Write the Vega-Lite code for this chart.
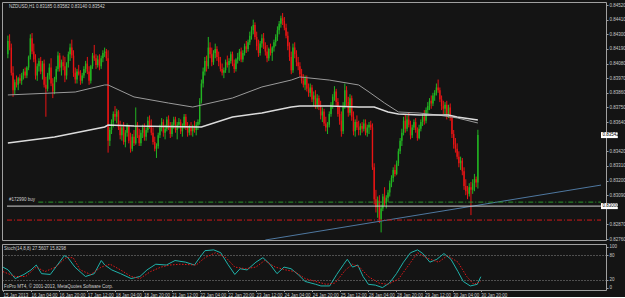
{
"$schema":"https://vega.github.io/schema/vega-lite/v6.json",
"background":"#141414",
"padding":{"left":1,"top":1,"right":0,"bottom":0},
"spacing":1,
"config":{"view":{"stroke":"#a0a0a0","strokeWidth":1},"font":"Liberation Sans",
"axis":{"labelFont":"Liberation Sans","labelFontSize":4.5,"labelColor":"#c8c8c8","tickColor":"#a0a0a0","tickSize":2,"labelPadding":1,"domain":false,"grid":false}},
"datasets":{
"bars":[
{"i":0,"o":0.84150,"h":0.84290,"l":0.84120,"c":0.84250},
{"i":1,"o":0.84250,"h":0.84300,"l":0.84180,"c":0.84200},
{"i":2,"o":0.84200,"h":0.84230,"l":0.83990,"c":0.84010},
{"i":3,"o":0.84010,"h":0.84060,"l":0.83830,"c":0.83880},
{"i":4,"o":0.83880,"h":0.83960,"l":0.83850,"c":0.83940},
{"i":5,"o":0.83940,"h":0.83990,"l":0.83900,"c":0.83920},
{"i":6,"o":0.83920,"h":0.83980,"l":0.83880,"c":0.83970},
{"i":7,"o":0.83970,"h":0.84000,"l":0.83930,"c":0.83950},
{"i":8,"o":0.83950,"h":0.84010,"l":0.83920,"c":0.83990},
{"i":9,"o":0.83990,"h":0.84040,"l":0.83960,"c":0.84020},
{"i":10,"o":0.84020,"h":0.84050,"l":0.83970,"c":0.83990},
{"i":11,"o":0.83990,"h":0.84060,"l":0.83970,"c":0.84050},
{"i":12,"o":0.84050,"h":0.84140,"l":0.84030,"c":0.84130},
{"i":13,"o":0.84130,"h":0.84300,"l":0.84110,"c":0.84270},
{"i":14,"o":0.84270,"h":0.84310,"l":0.84150,"c":0.84170},
{"i":15,"o":0.84170,"h":0.84230,"l":0.84090,"c":0.84110},
{"i":16,"o":0.84110,"h":0.84150,"l":0.83960,"c":0.83990},
{"i":17,"o":0.83990,"h":0.84080,"l":0.83950,"c":0.84060},
{"i":18,"o":0.84060,"h":0.84120,"l":0.84020,"c":0.84100},
{"i":19,"o":0.84100,"h":0.84130,"l":0.84000,"c":0.84020},
{"i":20,"o":0.84020,"h":0.84100,"l":0.83960,"c":0.84080},
{"i":21,"o":0.84080,"h":0.84110,"l":0.83900,"c":0.83920},
{"i":22,"o":0.83920,"h":0.83980,"l":0.83680,"c":0.83890},
{"i":23,"o":0.83890,"h":0.84010,"l":0.83870,"c":0.83990},
{"i":24,"o":0.83990,"h":0.84080,"l":0.83960,"c":0.84050},
{"i":25,"o":0.84050,"h":0.84120,"l":0.83910,"c":0.83930},
{"i":26,"o":0.83930,"h":0.83970,"l":0.83820,"c":0.83870},
{"i":27,"o":0.83870,"h":0.83980,"l":0.83850,"c":0.83960},
{"i":28,"o":0.83960,"h":0.84060,"l":0.83940,"c":0.84040},
{"i":29,"o":0.84040,"h":0.84170,"l":0.84020,"c":0.84140},
{"i":30,"o":0.84140,"h":0.84160,"l":0.84020,"c":0.84050},
{"i":31,"o":0.84050,"h":0.84110,"l":0.83990,"c":0.84090},
{"i":32,"o":0.84090,"h":0.84140,"l":0.84030,"c":0.84060},
{"i":33,"o":0.84060,"h":0.84130,"l":0.83940,"c":0.83990},
{"i":34,"o":0.83990,"h":0.84090,"l":0.83960,"c":0.84080},
{"i":35,"o":0.84080,"h":0.84170,"l":0.84050,"c":0.84150},
{"i":36,"o":0.84150,"h":0.84230,"l":0.84100,"c":0.84200},
{"i":37,"o":0.84200,"h":0.84260,"l":0.84120,"c":0.84140},
{"i":38,"o":0.84140,"h":0.84180,"l":0.83980,"c":0.84010},
{"i":39,"o":0.84010,"h":0.84050,"l":0.83930,"c":0.83960},
{"i":40,"o":0.83960,"h":0.84040,"l":0.83930,"c":0.84020},
{"i":41,"o":0.84020,"h":0.84070,"l":0.83990,"c":0.84000},
{"i":42,"o":0.84000,"h":0.84030,"l":0.83920,"c":0.83950},
{"i":43,"o":0.83950,"h":0.84010,"l":0.83930,"c":0.83990},
{"i":44,"o":0.83990,"h":0.84060,"l":0.83970,"c":0.84040},
{"i":45,"o":0.84040,"h":0.84100,"l":0.84010,"c":0.84080},
{"i":46,"o":0.84080,"h":0.84130,"l":0.84000,"c":0.84020},
{"i":47,"o":0.84020,"h":0.84060,"l":0.83920,"c":0.83950},
{"i":48,"o":0.83950,"h":0.84070,"l":0.83930,"c":0.84060},
{"i":49,"o":0.84060,"h":0.84160,"l":0.84040,"c":0.84140},
{"i":50,"o":0.84140,"h":0.84220,"l":0.84100,"c":0.84120},
{"i":51,"o":0.84120,"h":0.84150,"l":0.84040,"c":0.84070},
{"i":52,"o":0.84070,"h":0.84140,"l":0.84050,"c":0.84110},
{"i":53,"o":0.84110,"h":0.84150,"l":0.84030,"c":0.84060},
{"i":54,"o":0.84060,"h":0.84140,"l":0.84040,"c":0.84120},
{"i":55,"o":0.84120,"h":0.84180,"l":0.84090,"c":0.84160},
{"i":56,"o":0.84160,"h":0.84200,"l":0.84130,"c":0.84170},
{"i":57,"o":0.84170,"h":0.84190,"l":0.84100,"c":0.84120},
{"i":58,"o":0.84120,"h":0.84180,"l":0.83410,"c":0.83500},
{"i":59,"o":0.83500,"h":0.83600,"l":0.83460,"c":0.83580},
{"i":60,"o":0.83580,"h":0.83660,"l":0.83550,"c":0.83640},
{"i":61,"o":0.83640,"h":0.83720,"l":0.83600,"c":0.83700},
{"i":62,"o":0.83700,"h":0.83760,"l":0.83650,"c":0.83680},
{"i":63,"o":0.83680,"h":0.83740,"l":0.83630,"c":0.83720},
{"i":64,"o":0.83720,"h":0.83730,"l":0.83580,"c":0.83600},
{"i":65,"o":0.83600,"h":0.83650,"l":0.83510,"c":0.83540},
{"i":66,"o":0.83540,"h":0.83620,"l":0.83500,"c":0.83600},
{"i":67,"o":0.83600,"h":0.83640,"l":0.83470,"c":0.83490},
{"i":68,"o":0.83490,"h":0.83580,"l":0.83450,"c":0.83560},
{"i":69,"o":0.83560,"h":0.83630,"l":0.83530,"c":0.83610},
{"i":70,"o":0.83610,"h":0.83620,"l":0.83480,"c":0.83500},
{"i":71,"o":0.83500,"h":0.83560,"l":0.83410,"c":0.83440},
{"i":72,"o":0.83440,"h":0.83550,"l":0.83420,"c":0.83530},
{"i":73,"o":0.83530,"h":0.83580,"l":0.83460,"c":0.83480},
{"i":74,"o":0.83480,"h":0.83750,"l":0.83470,"c":0.83620},
{"i":75,"o":0.83620,"h":0.83640,"l":0.83520,"c":0.83540},
{"i":76,"o":0.83540,"h":0.83590,"l":0.83460,"c":0.83480},
{"i":77,"o":0.83480,"h":0.83580,"l":0.83460,"c":0.83560},
{"i":78,"o":0.83560,"h":0.83620,"l":0.83520,"c":0.83600},
{"i":79,"o":0.83600,"h":0.83630,"l":0.83500,"c":0.83530},
{"i":80,"o":0.83530,"h":0.83600,"l":0.83500,"c":0.83580},
{"i":81,"o":0.83580,"h":0.83680,"l":0.83560,"c":0.83650},
{"i":82,"o":0.83650,"h":0.83690,"l":0.83590,"c":0.83620},
{"i":83,"o":0.83620,"h":0.83660,"l":0.83540,"c":0.83560},
{"i":84,"o":0.83560,"h":0.83600,"l":0.83470,"c":0.83490},
{"i":85,"o":0.83490,"h":0.83530,"l":0.83420,"c":0.83440},
{"i":86,"o":0.83440,"h":0.83480,"l":0.83370,"c":0.83460},
{"i":87,"o":0.83460,"h":0.83560,"l":0.83440,"c":0.83540},
{"i":88,"o":0.83540,"h":0.83620,"l":0.83520,"c":0.83600},
{"i":89,"o":0.83600,"h":0.83670,"l":0.83570,"c":0.83640},
{"i":90,"o":0.83640,"h":0.83660,"l":0.83530,"c":0.83560},
{"i":91,"o":0.83560,"h":0.83620,"l":0.83510,"c":0.83590},
{"i":92,"o":0.83590,"h":0.83680,"l":0.83570,"c":0.83660},
{"i":93,"o":0.83660,"h":0.83690,"l":0.83580,"c":0.83600},
{"i":94,"o":0.83600,"h":0.83640,"l":0.83520,"c":0.83550},
{"i":95,"o":0.83550,"h":0.83640,"l":0.83530,"c":0.83620},
{"i":96,"o":0.83620,"h":0.83680,"l":0.83590,"c":0.83660},
{"i":97,"o":0.83660,"h":0.83680,"l":0.83560,"c":0.83580},
{"i":98,"o":0.83580,"h":0.83640,"l":0.83510,"c":0.83620},
{"i":99,"o":0.83620,"h":0.83670,"l":0.83590,"c":0.83640},
{"i":100,"o":0.83640,"h":0.83660,"l":0.83550,"c":0.83570},
{"i":101,"o":0.83570,"h":0.83630,"l":0.83530,"c":0.83610},
{"i":102,"o":0.83610,"h":0.83700,"l":0.83590,"c":0.83680},
{"i":103,"o":0.83680,"h":0.83700,"l":0.83580,"c":0.83600},
{"i":104,"o":0.83600,"h":0.83640,"l":0.83530,"c":0.83560},
{"i":105,"o":0.83560,"h":0.83620,"l":0.83540,"c":0.83600},
{"i":106,"o":0.83600,"h":0.83640,"l":0.83540,"c":0.83570},
{"i":107,"o":0.83570,"h":0.83620,"l":0.83530,"c":0.83600},
{"i":108,"o":0.83600,"h":0.83650,"l":0.83560,"c":0.83580},
{"i":109,"o":0.83580,"h":0.83640,"l":0.83540,"c":0.83620},
{"i":110,"o":0.83620,"h":0.83660,"l":0.83580,"c":0.83640},
{"i":111,"o":0.83640,"h":0.83820,"l":0.83620,"c":0.83800},
{"i":112,"o":0.83800,"h":0.83960,"l":0.83780,"c":0.83930},
{"i":113,"o":0.83930,"h":0.84050,"l":0.83900,"c":0.84020},
{"i":114,"o":0.84020,"h":0.84130,"l":0.83990,"c":0.84100},
{"i":115,"o":0.84100,"h":0.84140,"l":0.84020,"c":0.84060},
{"i":116,"o":0.84060,"h":0.84280,"l":0.84040,"c":0.84200},
{"i":117,"o":0.84200,"h":0.84240,"l":0.84120,"c":0.84150},
{"i":118,"o":0.84150,"h":0.84200,"l":0.84060,"c":0.84090},
{"i":119,"o":0.84090,"h":0.84180,"l":0.84070,"c":0.84160},
{"i":120,"o":0.84160,"h":0.84230,"l":0.84120,"c":0.84190},
{"i":121,"o":0.84190,"h":0.84210,"l":0.84100,"c":0.84130},
{"i":122,"o":0.84130,"h":0.84170,"l":0.84060,"c":0.84090},
{"i":123,"o":0.84090,"h":0.84130,"l":0.84020,"c":0.84040},
{"i":124,"o":0.84040,"h":0.84080,"l":0.83990,"c":0.84010},
{"i":125,"o":0.84010,"h":0.84050,"l":0.83970,"c":0.84030},
{"i":126,"o":0.84030,"h":0.84110,"l":0.84010,"c":0.84090},
{"i":127,"o":0.84090,"h":0.84140,"l":0.84050,"c":0.84070},
{"i":128,"o":0.84070,"h":0.84120,"l":0.84010,"c":0.84100},
{"i":129,"o":0.84100,"h":0.84170,"l":0.84080,"c":0.84150},
{"i":130,"o":0.84150,"h":0.84170,"l":0.84060,"c":0.84080},
{"i":131,"o":0.84080,"h":0.84110,"l":0.84010,"c":0.84040},
{"i":132,"o":0.84040,"h":0.84120,"l":0.84020,"c":0.84110},
{"i":133,"o":0.84110,"h":0.84160,"l":0.84080,"c":0.84130},
{"i":134,"o":0.84130,"h":0.84190,"l":0.84100,"c":0.84170},
{"i":135,"o":0.84170,"h":0.84200,"l":0.84090,"c":0.84110},
{"i":136,"o":0.84110,"h":0.84180,"l":0.84090,"c":0.84160},
{"i":137,"o":0.84160,"h":0.84230,"l":0.84140,"c":0.84210},
{"i":138,"o":0.84210,"h":0.84250,"l":0.84160,"c":0.84190},
{"i":139,"o":0.84190,"h":0.84260,"l":0.84170,"c":0.84240},
{"i":140,"o":0.84240,"h":0.84320,"l":0.84220,"c":0.84290},
{"i":141,"o":0.84290,"h":0.84360,"l":0.84260,"c":0.84330},
{"i":142,"o":0.84330,"h":0.84410,"l":0.84300,"c":0.84370},
{"i":143,"o":0.84370,"h":0.84390,"l":0.84260,"c":0.84280},
{"i":144,"o":0.84280,"h":0.84320,"l":0.84180,"c":0.84210},
{"i":145,"o":0.84210,"h":0.84260,"l":0.84130,"c":0.84160},
{"i":146,"o":0.84160,"h":0.84250,"l":0.84140,"c":0.84230},
{"i":147,"o":0.84230,"h":0.84300,"l":0.84200,"c":0.84270},
{"i":148,"o":0.84270,"h":0.84310,"l":0.84190,"c":0.84210},
{"i":149,"o":0.84210,"h":0.84240,"l":0.84140,"c":0.84170},
{"i":150,"o":0.84170,"h":0.84220,"l":0.84090,"c":0.84120},
{"i":151,"o":0.84120,"h":0.84200,"l":0.84100,"c":0.84190},
{"i":152,"o":0.84190,"h":0.84230,"l":0.84140,"c":0.84160},
{"i":153,"o":0.84160,"h":0.84210,"l":0.84100,"c":0.84200},
{"i":154,"o":0.84200,"h":0.84260,"l":0.84170,"c":0.84240},
{"i":155,"o":0.84240,"h":0.84300,"l":0.84210,"c":0.84280},
{"i":156,"o":0.84280,"h":0.84360,"l":0.84250,"c":0.84330},
{"i":157,"o":0.84330,"h":0.84400,"l":0.84300,"c":0.84380},
{"i":158,"o":0.84380,"h":0.84440,"l":0.84350,"c":0.84420},
{"i":159,"o":0.84420,"h":0.84460,"l":0.84370,"c":0.84400},
{"i":160,"o":0.84400,"h":0.84430,"l":0.84330,"c":0.84350},
{"i":161,"o":0.84350,"h":0.84380,"l":0.84270,"c":0.84290},
{"i":162,"o":0.84290,"h":0.84320,"l":0.84180,"c":0.84210},
{"i":163,"o":0.84210,"h":0.84240,"l":0.84100,"c":0.84130},
{"i":164,"o":0.84130,"h":0.84170,"l":0.84000,"c":0.84030},
{"i":165,"o":0.84030,"h":0.84230,"l":0.84010,"c":0.84200},
{"i":166,"o":0.84200,"h":0.84240,"l":0.84120,"c":0.84150},
{"i":167,"o":0.84150,"h":0.84180,"l":0.84060,"c":0.84090},
{"i":168,"o":0.84090,"h":0.84130,"l":0.84030,"c":0.84060},
{"i":169,"o":0.84060,"h":0.84090,"l":0.83980,"c":0.84000},
{"i":170,"o":0.84000,"h":0.84040,"l":0.83930,"c":0.83950},
{"i":171,"o":0.83950,"h":0.84000,"l":0.83900,"c":0.83920},
{"i":172,"o":0.83920,"h":0.83990,"l":0.83880,"c":0.83970},
{"i":173,"o":0.83970,"h":0.83990,"l":0.83870,"c":0.83890},
{"i":174,"o":0.83890,"h":0.83930,"l":0.83830,"c":0.83860},
{"i":175,"o":0.83860,"h":0.83930,"l":0.83830,"c":0.83900},
{"i":176,"o":0.83900,"h":0.83920,"l":0.83790,"c":0.83810},
{"i":177,"o":0.83810,"h":0.83870,"l":0.83760,"c":0.83840},
{"i":178,"o":0.83840,"h":0.83880,"l":0.83740,"c":0.83770},
{"i":179,"o":0.83770,"h":0.83850,"l":0.83740,"c":0.83820},
{"i":180,"o":0.83820,"h":0.83840,"l":0.83730,"c":0.83760},
{"i":181,"o":0.83760,"h":0.83800,"l":0.83660,"c":0.83690},
{"i":182,"o":0.83690,"h":0.83750,"l":0.83640,"c":0.83720},
{"i":183,"o":0.83720,"h":0.83740,"l":0.83610,"c":0.83630},
{"i":184,"o":0.83630,"h":0.83680,"l":0.83570,"c":0.83600},
{"i":185,"o":0.83600,"h":0.83640,"l":0.83550,"c":0.83620},
{"i":186,"o":0.83620,"h":0.83720,"l":0.83600,"c":0.83700},
{"i":187,"o":0.83700,"h":0.83790,"l":0.83680,"c":0.83770},
{"i":188,"o":0.83770,"h":0.83850,"l":0.83740,"c":0.83830},
{"i":189,"o":0.83830,"h":0.83910,"l":0.83800,"c":0.83870},
{"i":190,"o":0.83870,"h":0.83890,"l":0.83760,"c":0.83790},
{"i":191,"o":0.83790,"h":0.83820,"l":0.83680,"c":0.83700},
{"i":192,"o":0.83700,"h":0.83760,"l":0.83620,"c":0.83650},
{"i":193,"o":0.83650,"h":0.83720,"l":0.83530,"c":0.83570},
{"i":194,"o":0.83570,"h":0.83790,"l":0.83550,"c":0.83760},
{"i":195,"o":0.83760,"h":0.83930,"l":0.83740,"c":0.83880},
{"i":196,"o":0.83880,"h":0.83910,"l":0.83760,"c":0.83790},
{"i":197,"o":0.83790,"h":0.83830,"l":0.83680,"c":0.83710},
{"i":198,"o":0.83710,"h":0.83850,"l":0.83690,"c":0.83820},
{"i":199,"o":0.83820,"h":0.83840,"l":0.83650,"c":0.83680},
{"i":200,"o":0.83680,"h":0.83720,"l":0.83540,"c":0.83570},
{"i":201,"o":0.83570,"h":0.83660,"l":0.83530,"c":0.83640},
{"i":202,"o":0.83640,"h":0.83690,"l":0.83580,"c":0.83600},
{"i":203,"o":0.83600,"h":0.83650,"l":0.83540,"c":0.83580},
{"i":204,"o":0.83580,"h":0.83630,"l":0.83540,"c":0.83610},
{"i":205,"o":0.83610,"h":0.83640,"l":0.83560,"c":0.83590},
{"i":206,"o":0.83590,"h":0.83660,"l":0.83570,"c":0.83630},
{"i":207,"o":0.83630,"h":0.83660,"l":0.83540,"c":0.83560},
{"i":208,"o":0.83560,"h":0.83620,"l":0.83530,"c":0.83600},
{"i":209,"o":0.83600,"h":0.83640,"l":0.83550,"c":0.83620},
{"i":210,"o":0.83620,"h":0.83650,"l":0.83580,"c":0.83600},
{"i":211,"o":0.83600,"h":0.83630,"l":0.83280,"c":0.83300},
{"i":212,"o":0.83300,"h":0.83330,"l":0.83020,"c":0.83060},
{"i":213,"o":0.83060,"h":0.83130,"l":0.82960,"c":0.83000},
{"i":214,"o":0.83000,"h":0.83080,"l":0.82920,"c":0.83050},
{"i":215,"o":0.83050,"h":0.83090,"l":0.82880,"c":0.82910},
{"i":216,"o":0.82910,"h":0.83020,"l":0.82810,"c":0.82990},
{"i":217,"o":0.82990,"h":0.83100,"l":0.82970,"c":0.83080},
{"i":218,"o":0.83080,"h":0.83150,"l":0.83010,"c":0.83030},
{"i":219,"o":0.83030,"h":0.83090,"l":0.82990,"c":0.83070},
{"i":220,"o":0.83070,"h":0.83130,"l":0.83040,"c":0.83110},
{"i":221,"o":0.83110,"h":0.83200,"l":0.83080,"c":0.83180},
{"i":222,"o":0.83180,"h":0.83240,"l":0.83150,"c":0.83220},
{"i":223,"o":0.83220,"h":0.83300,"l":0.83190,"c":0.83280},
{"i":224,"o":0.83280,"h":0.83320,"l":0.83230,"c":0.83250},
{"i":225,"o":0.83250,"h":0.83350,"l":0.83240,"c":0.83330},
{"i":226,"o":0.83330,"h":0.83440,"l":0.83310,"c":0.83420},
{"i":227,"o":0.83420,"h":0.83520,"l":0.83400,"c":0.83500},
{"i":228,"o":0.83500,"h":0.83590,"l":0.83460,"c":0.83560},
{"i":229,"o":0.83560,"h":0.83680,"l":0.83540,"c":0.83650},
{"i":230,"o":0.83650,"h":0.83700,"l":0.83560,"c":0.83590},
{"i":231,"o":0.83590,"h":0.83690,"l":0.83570,"c":0.83660},
{"i":232,"o":0.83660,"h":0.83710,"l":0.83600,"c":0.83620},
{"i":233,"o":0.83620,"h":0.83650,"l":0.83510,"c":0.83540},
{"i":234,"o":0.83540,"h":0.83620,"l":0.83520,"c":0.83600},
{"i":235,"o":0.83600,"h":0.83660,"l":0.83580,"c":0.83640},
{"i":236,"o":0.83640,"h":0.83670,"l":0.83560,"c":0.83580},
{"i":237,"o":0.83580,"h":0.83600,"l":0.83500,"c":0.83520},
{"i":238,"o":0.83520,"h":0.83620,"l":0.83510,"c":0.83590},
{"i":239,"o":0.83590,"h":0.83660,"l":0.83570,"c":0.83640},
{"i":240,"o":0.83640,"h":0.83700,"l":0.83610,"c":0.83680},
{"i":241,"o":0.83680,"h":0.83730,"l":0.83620,"c":0.83650},
{"i":242,"o":0.83650,"h":0.83750,"l":0.83630,"c":0.83730},
{"i":243,"o":0.83730,"h":0.83790,"l":0.83700,"c":0.83760},
{"i":244,"o":0.83760,"h":0.83820,"l":0.83730,"c":0.83800},
{"i":245,"o":0.83800,"h":0.83840,"l":0.83740,"c":0.83780},
{"i":246,"o":0.83780,"h":0.83860,"l":0.83760,"c":0.83840},
{"i":247,"o":0.83840,"h":0.83880,"l":0.83800,"c":0.83860},
{"i":248,"o":0.83860,"h":0.83930,"l":0.83840,"c":0.83900},
{"i":249,"o":0.83900,"h":0.83960,"l":0.83860,"c":0.83880},
{"i":250,"o":0.83880,"h":0.83900,"l":0.83790,"c":0.83810},
{"i":251,"o":0.83810,"h":0.83840,"l":0.83730,"c":0.83760},
{"i":252,"o":0.83760,"h":0.83800,"l":0.83700,"c":0.83740},
{"i":253,"o":0.83740,"h":0.83790,"l":0.83690,"c":0.83770},
{"i":254,"o":0.83770,"h":0.83800,"l":0.83660,"c":0.83690},
{"i":255,"o":0.83690,"h":0.83770,"l":0.83670,"c":0.83750},
{"i":256,"o":0.83750,"h":0.83780,"l":0.83650,"c":0.83670},
{"i":257,"o":0.83670,"h":0.83690,"l":0.83520,"c":0.83550},
{"i":258,"o":0.83550,"h":0.83580,"l":0.83440,"c":0.83470},
{"i":259,"o":0.83470,"h":0.83520,"l":0.83410,"c":0.83440},
{"i":260,"o":0.83440,"h":0.83480,"l":0.83360,"c":0.83380},
{"i":261,"o":0.83380,"h":0.83420,"l":0.83300,"c":0.83330},
{"i":262,"o":0.83330,"h":0.83380,"l":0.83280,"c":0.83350},
{"i":263,"o":0.83350,"h":0.83370,"l":0.83240,"c":0.83270},
{"i":264,"o":0.83270,"h":0.83300,"l":0.83130,"c":0.83160},
{"i":265,"o":0.83160,"h":0.83210,"l":0.83090,"c":0.83120},
{"i":266,"o":0.83120,"h":0.83160,"l":0.83060,"c":0.83100},
{"i":267,"o":0.83100,"h":0.83180,"l":0.83080,"c":0.83150},
{"i":268,"o":0.83150,"h":0.83190,"l":0.82940,"c":0.83130},
{"i":269,"o":0.83130,"h":0.83210,"l":0.83100,"c":0.83180},
{"i":270,"o":0.83180,"h":0.83250,"l":0.83120,"c":0.83210},
{"i":271,"o":0.83210,"h":0.83230,"l":0.83150,"c":0.83185},
{"i":272,"o":0.83185,"h":0.83582,"l":0.83140,"c":0.83542}
],
"ma":[
{"s":"fast","i":0,"v":0.83844},{"s":"fast","i":39,"v":0.83866},{"s":"fast","i":56,"v":0.83919},{"s":"fast","i":58,"v":0.83919},{"s":"fast","i":73,"v":0.83829},{"s":"fast","i":93,"v":0.83783},{"s":"fast","i":107,"v":0.83753},{"s":"fast","i":130,"v":0.83821},{"s":"fast","i":147,"v":0.83904},{"s":"fast","i":164,"v":0.83956},{"s":"fast","i":169,"v":0.83979},{"s":"fast","i":186,"v":0.83956},{"s":"fast","i":203,"v":0.83919},{"s":"fast","i":209,"v":0.83866},{"s":"fast","i":218,"v":0.83783},{"s":"fast","i":226,"v":0.83716},{"s":"fast","i":238,"v":0.83708},{"s":"fast","i":249,"v":0.83693},{"s":"fast","i":260,"v":0.83671},{"s":"fast","i":272,"v":0.83633},
{"s":"slow","i":0,"v":0.83483},{"s":"slow","i":27,"v":0.83528},{"s":"slow","i":56,"v":0.83603},{"s":"slow","i":58,"v":0.83618},{"s":"slow","i":73,"v":0.83610},{"s":"slow","i":112,"v":0.83603},{"s":"slow","i":130,"v":0.83678},{"s":"slow","i":147,"v":0.83708},{"s":"slow","i":164,"v":0.83753},{"s":"slow","i":169,"v":0.83761},{"s":"slow","i":186,"v":0.83761},{"s":"slow","i":203,"v":0.83753},{"s":"slow","i":212,"v":0.83753},{"s":"slow","i":220,"v":0.83716},{"s":"slow","i":226,"v":0.83701},{"s":"slow","i":238,"v":0.83693},{"s":"slow","i":255,"v":0.83693},{"s":"slow","i":260,"v":0.83678},{"s":"slow","i":272,"v":0.83656}
],
"stoch":[
{"s":"main","i":0,"v":51},{"s":"main","i":3,"v":44},{"s":"main","i":7,"v":23},{"s":"main","i":12,"v":33},{"s":"main","i":16,"v":44},{"s":"main","i":19,"v":56},{"s":"main","i":22,"v":35},{"s":"main","i":27,"v":33},{"s":"main","i":31,"v":56},{"s":"main","i":35,"v":79},{"s":"main","i":37,"v":74},{"s":"main","i":41,"v":51},{"s":"main","i":47,"v":28},{"s":"main","i":52,"v":35},{"s":"main","i":56,"v":67},{"s":"main","i":58,"v":56},{"s":"main","i":62,"v":44},{"s":"main","i":67,"v":35},{"s":"main","i":73,"v":23},{"s":"main","i":78,"v":28},{"s":"main","i":82,"v":44},{"s":"main","i":87,"v":58},{"s":"main","i":93,"v":56},{"s":"main","i":98,"v":67},{"s":"main","i":104,"v":63},{"s":"main","i":109,"v":56},{"s":"main","i":112,"v":74},{"s":"main","i":115,"v":91},{"s":"main","i":120,"v":93},{"s":"main","i":124,"v":86},{"s":"main","i":128,"v":58},{"s":"main","i":132,"v":33},{"s":"main","i":135,"v":47},{"s":"main","i":139,"v":44},{"s":"main","i":144,"v":63},{"s":"main","i":148,"v":74},{"s":"main","i":152,"v":58},{"s":"main","i":156,"v":35},{"s":"main","i":160,"v":51},{"s":"main","i":164,"v":47},{"s":"main","i":168,"v":33},{"s":"main","i":172,"v":16},{"s":"main","i":178,"v":9},{"s":"main","i":181,"v":5},{"s":"main","i":186,"v":5},{"s":"main","i":190,"v":33},{"s":"main","i":194,"v":58},{"s":"main","i":196,"v":70},{"s":"main","i":199,"v":51},{"s":"main","i":202,"v":56},{"s":"main","i":205,"v":28},{"s":"main","i":208,"v":9},{"s":"main","i":212,"v":7},{"s":"main","i":216,"v":1},{"s":"main","i":220,"v":12},{"s":"main","i":224,"v":35},{"s":"main","i":228,"v":63},{"s":"main","i":232,"v":86},{"s":"main","i":236,"v":93},{"s":"main","i":239,"v":84},{"s":"main","i":243,"v":63},{"s":"main","i":247,"v":70},{"s":"main","i":251,"v":84},{"s":"main","i":255,"v":70},{"s":"main","i":259,"v":40},{"s":"main","i":262,"v":16},{"s":"main","i":266,"v":5},{"s":"main","i":270,"v":9},{"s":"main","i":272,"v":27.56},
{"s":"signal","i":0,"v":40},{"s":"signal","i":7,"v":28},{"s":"signal","i":13,"v":28},{"s":"signal","i":19,"v":51},{"s":"signal","i":24,"v":40},{"s":"signal","i":30,"v":51},{"s":"signal","i":36,"v":74},{"s":"signal","i":40,"v":74},{"s":"signal","i":44,"v":44},{"s":"signal","i":50,"v":33},{"s":"signal","i":56,"v":51},{"s":"signal","i":61,"v":58},{"s":"signal","i":67,"v":44},{"s":"signal","i":73,"v":28},{"s":"signal","i":78,"v":23},{"s":"signal","i":84,"v":40},{"s":"signal","i":90,"v":51},{"s":"signal","i":95,"v":56},{"s":"signal","i":101,"v":58},{"s":"signal","i":110,"v":56},{"s":"signal","i":115,"v":74},{"s":"signal","i":121,"v":86},{"s":"signal","i":127,"v":74},{"s":"signal","i":132,"v":51},{"s":"signal","i":138,"v":47},{"s":"signal","i":144,"v":51},{"s":"signal","i":149,"v":67},{"s":"signal","i":155,"v":51},{"s":"signal","i":161,"v":44},{"s":"signal","i":166,"v":40},{"s":"signal","i":172,"v":23},{"s":"signal","i":178,"v":16},{"s":"signal","i":184,"v":9},{"s":"signal","i":189,"v":12},{"s":"signal","i":195,"v":44},{"s":"signal","i":199,"v":58},{"s":"signal","i":203,"v":51},{"s":"signal","i":208,"v":28},{"s":"signal","i":214,"v":12},{"s":"signal","i":219,"v":9},{"s":"signal","i":225,"v":21},{"s":"signal","i":231,"v":56},{"s":"signal","i":236,"v":86},{"s":"signal","i":242,"v":72},{"s":"signal","i":248,"v":63},{"s":"signal","i":253,"v":79},{"s":"signal","i":259,"v":63},{"s":"signal","i":264,"v":28},{"s":"signal","i":268,"v":9},{"s":"signal","i":272,"v":15.83}
],
"trend":[{"i":149,"v":0.82753},{"i":343.25,"v":0.83166}],
"tags":[{"v":0.83542,"t":"0.83542"},{"v":0.83008,"t":"0.83000"}]
},
"vconcat":[
{"width":604,"height":238,
"layer":[
{"data":{"name":"bars"},"mark":{"type":"rule","strokeWidth":1,"clip":true},
 "encoding":{"x":{"field":"i","type":"quantitative","scale":{"domain":[-0.5,343.25],"nice":false,"zero":false},"axis":null},
 "y":{"field":"l","type":"quantitative","scale":{"domain":[0.82753,0.84543],"nice":false,"zero":false},
  "axis":{"orient":"right","values":[0.8452,0.8441,0.843,0.8419,0.8408,0.8397,0.8386,0.8375,0.8364,0.8342,0.8331,0.832,0.8309,0.8287,0.8276],"format":".5f","title":null}},
 "y2":{"field":"h"},
 "color":{"condition":{"test":"datum.c >= datum.o","value":"#22b422"},"value":"#e81414"}}},
{"data":{"name":"bars"},"mark":{"type":"bar","size":1.4,"clip":true},
 "encoding":{"x":{"field":"i","type":"quantitative","scale":{"domain":[-0.5,343.25],"nice":false,"zero":false},"axis":null},
 "y":{"field":"o","type":"quantitative","scale":{"domain":[0.82753,0.84543],"nice":false,"zero":false},
  "axis":{"orient":"right","values":[0.8452,0.8441,0.843,0.8419,0.8408,0.8397,0.8386,0.8375,0.8364,0.8342,0.8331,0.832,0.8309,0.8287,0.8276],"format":".5f","title":null}},
 "y2":{"field":"c"},
 "color":{"condition":{"test":"datum.c >= datum.o","value":"#22b422"},"value":"#e81414"}}},
{"data":{"name":"ma"},"transform":[{"filter":"datum.s == 'fast'"}],"mark":{"type":"line","color":"#9a9a9a","strokeWidth":1,"clip":true},
 "encoding":{"x":{"field":"i","type":"quantitative","scale":{"domain":[-0.5,343.25],"nice":false,"zero":false},"axis":null},
 "y":{"field":"v","type":"quantitative","scale":{"domain":[0.82753,0.84543],"nice":false,"zero":false},
  "axis":{"orient":"right","values":[0.8452,0.8441,0.843,0.8419,0.8408,0.8397,0.8386,0.8375,0.8364,0.8342,0.8331,0.832,0.8309,0.8287,0.8276],"format":".5f","title":null}}}},
{"data":{"name":"ma"},"transform":[{"filter":"datum.s == 'slow'"}],"mark":{"type":"line","color":"#dcdcdc","strokeWidth":1.5,"clip":true},
 "encoding":{"x":{"field":"i","type":"quantitative","scale":{"domain":[-0.5,343.25],"nice":false,"zero":false},"axis":null},
 "y":{"field":"v","type":"quantitative","scale":{"domain":[0.82753,0.84543],"nice":false,"zero":false},
  "axis":{"orient":"right","values":[0.8452,0.8441,0.843,0.8419,0.8408,0.8397,0.8386,0.8375,0.8364,0.8342,0.8331,0.832,0.8309,0.8287,0.8276],"format":".5f","title":null}}}},
{"data":{"name":"trend"},"mark":{"type":"line","color":"#4f78a0","strokeWidth":1,"clip":true},
 "encoding":{"x":{"field":"i","type":"quantitative","scale":{"domain":[-0.5,343.25],"nice":false,"zero":false},"axis":null},
 "y":{"field":"v","type":"quantitative","scale":{"domain":[0.82753,0.84543],"nice":false,"zero":false},
  "axis":{"orient":"right","values":[0.8452,0.8441,0.843,0.8419,0.8408,0.8397,0.8386,0.8375,0.8364,0.8342,0.8331,0.832,0.8309,0.8287,0.8276],"format":".5f","title":null}}}},
{"data":{"values":[{}]},"mark":{"type":"rule","color":"#2a9a2a","strokeWidth":1,"strokeDash":[5,2,1,2]},
 "encoding":{"x":{"datum":17.6,"type":"quantitative","scale":{"domain":[-0.5,343.25],"nice":false,"zero":false},"axis":null},"x2":{"datum":343.25},
 "y":{"datum":0.83038,"type":"quantitative","scale":{"domain":[0.82753,0.84543],"nice":false,"zero":false},
  "axis":{"orient":"right","values":[0.8452,0.8441,0.843,0.8419,0.8408,0.8397,0.8386,0.8375,0.8364,0.8342,0.8331,0.832,0.8309,0.8287,0.8276],"format":".5f","title":null}}}},
{"data":{"values":[{}]},"mark":{"type":"rule","color":"#d0d0d0","strokeWidth":1},
 "encoding":{"x":{"datum":-0.5,"type":"quantitative","scale":{"domain":[-0.5,343.25],"nice":false,"zero":false},"axis":null},"x2":{"datum":343.25},
 "y":{"datum":0.83008,"type":"quantitative","scale":{"domain":[0.82753,0.84543],"nice":false,"zero":false},
  "axis":{"orient":"right","values":[0.8452,0.8441,0.843,0.8419,0.8408,0.8397,0.8386,0.8375,0.8364,0.8342,0.8331,0.832,0.8309,0.8287,0.8276],"format":".5f","title":null}}}},
{"data":{"values":[{}]},"mark":{"type":"rule","color":"#d01818","strokeWidth":1,"strokeDash":[5,2,1,2]},
 "encoding":{"x":{"datum":-0.5,"type":"quantitative","scale":{"domain":[-0.5,343.25],"nice":false,"zero":false},"axis":null},"x2":{"datum":343.25},
 "y":{"datum":0.82903,"type":"quantitative","scale":{"domain":[0.82753,0.84543],"nice":false,"zero":false},
  "axis":{"orient":"right","values":[0.8452,0.8441,0.843,0.8419,0.8408,0.8397,0.8386,0.8375,0.8364,0.8342,0.8331,0.832,0.8309,0.8287,0.8276],"format":".5f","title":null}}}},
{"data":{"values":[{}]},"mark":{"type":"text","align":"left","baseline":"top","dx":2,"dy":2,"fontSize":4.5,"color":"#d0d0d0","text":"NZDUSD,H1  0.83185 0.83582 0.83140 0.83542"},
 "encoding":{"x":{"datum":-0.5,"type":"quantitative","scale":{"domain":[-0.5,343.25],"nice":false,"zero":false},"axis":null},
 "y":{"datum":0.84543,"type":"quantitative","scale":{"domain":[0.82753,0.84543],"nice":false,"zero":false},
  "axis":{"orient":"right","values":[0.8452,0.8441,0.843,0.8419,0.8408,0.8397,0.8386,0.8375,0.8364,0.8342,0.8331,0.832,0.8309,0.8287,0.8276],"format":".5f","title":null}}}},
{"data":{"values":[{}]},"mark":{"type":"text","align":"left","baseline":"bottom","dx":2,"dy":-0.5,"fontSize":4.5,"color":"#d0d0d0","text":"#172990 buy"},
 "encoding":{"x":{"datum":-0.5,"type":"quantitative","scale":{"domain":[-0.5,343.25],"nice":false,"zero":false},"axis":null},
 "y":{"datum":0.83038,"type":"quantitative","scale":{"domain":[0.82753,0.84543],"nice":false,"zero":false},
  "axis":{"orient":"right","values":[0.8452,0.8441,0.843,0.8419,0.8408,0.8397,0.8386,0.8375,0.8364,0.8342,0.8331,0.832,0.8309,0.8287,0.8276],"format":".5f","title":null}}}},
{"data":{"name":"tags"},"mark":{"type":"point","shape":"M0,-1H5.6V1H0Z","size":36,"filled":true,"color":"#ffffff","opacity":1,"clip":false},
 "encoding":{"x":{"datum":343.25,"type":"quantitative","scale":{"domain":[-0.5,343.25],"nice":false,"zero":false},"axis":null},
 "y":{"field":"v","type":"quantitative","scale":{"domain":[0.82753,0.84543],"nice":false,"zero":false},
  "axis":{"orient":"right","values":[0.8452,0.8441,0.843,0.8419,0.8408,0.8397,0.8386,0.8375,0.8364,0.8342,0.8331,0.832,0.8309,0.8287,0.8276],"format":".5f","title":null}}}},
{"data":{"name":"tags"},"mark":{"type":"text","align":"left","baseline":"middle","dx":1.5,"fontSize":4.5,"color":"#000000","clip":false},
 "encoding":{"x":{"datum":343.25,"type":"quantitative","scale":{"domain":[-0.5,343.25],"nice":false,"zero":false},"axis":null},
 "y":{"field":"v","type":"quantitative","scale":{"domain":[0.82753,0.84543],"nice":false,"zero":false},
  "axis":{"orient":"right","values":[0.8452,0.8441,0.843,0.8419,0.8408,0.8397,0.8386,0.8375,0.8364,0.8342,0.8331,0.832,0.8309,0.8287,0.8276],"format":".5f","title":null}},
 "text":{"field":"t"}}}
]},
{"width":604,"height":46,
"layer":[
{"data":{"name":"stoch"},"transform":[{"filter":"datum.s == 'main'"}],"mark":{"type":"line","color":"#20b2aa","strokeWidth":1,"clip":true},
 "encoding":{"x":{"field":"i","type":"quantitative","scale":{"domain":[-0.5,343.25],"nice":false,"zero":false},
   "axis":{"orient":"bottom","values":[0,16,32,48,64,80,96,112,128,144,160,176,192,208,224,240,256,272],"labelExpr":"['15 Jan 2013','16 Jan 04:00','16 Jan 20:00','17 Jan 12:00','18 Jan 04:00','18 Jan 20:00','21 Jan 12:00','22 Jan 04:00','22 Jan 20:00','23 Jan 12:00','24 Jan 04:00','24 Jan 20:00','25 Jan 12:00','28 Jan 04:00','28 Jan 20:00','29 Jan 12:00','30 Jan 04:00','30 Jan 20:00'][round(datum.value/16)]","labelAlign":"left","labelOverlap":false,"labelFlush":false,"labelBound":false,"tickSize":1.5,"labelPadding":0.5,"title":null}},
 "y":{"field":"v","type":"quantitative","scale":{"domain":[-4.9,107.3],"nice":false,"zero":false},
   "axis":{"orient":"right","values":[0,20,80,100],"format":"d","title":null,"grid":true,"gridDash":[1,2],"gridColor":"#8a8a8a","gridOpacity":{"condition":{"test":"datum.value == 20 || datum.value == 80","value":1},"value":0}}}}},
{"data":{"name":"stoch"},"transform":[{"filter":"datum.s == 'signal'"}],"mark":{"type":"line","color":"#e01818","strokeWidth":1,"strokeDash":[1.5,1.5],"clip":true},
 "encoding":{"x":{"field":"i","type":"quantitative","scale":{"domain":[-0.5,343.25],"nice":false,"zero":false},
   "axis":{"orient":"bottom","values":[0,16,32,48,64,80,96,112,128,144,160,176,192,208,224,240,256,272],"labelExpr":"['15 Jan 2013','16 Jan 04:00','16 Jan 20:00','17 Jan 12:00','18 Jan 04:00','18 Jan 20:00','21 Jan 12:00','22 Jan 04:00','22 Jan 20:00','23 Jan 12:00','24 Jan 04:00','24 Jan 20:00','25 Jan 12:00','28 Jan 04:00','28 Jan 20:00','29 Jan 12:00','30 Jan 04:00','30 Jan 20:00'][round(datum.value/16)]","labelAlign":"left","labelOverlap":false,"labelFlush":false,"labelBound":false,"tickSize":1.5,"labelPadding":0.5,"title":null}},
 "y":{"field":"v","type":"quantitative","scale":{"domain":[-4.9,107.3],"nice":false,"zero":false},
   "axis":{"orient":"right","values":[0,20,80,100],"format":"d","title":null,"grid":true,"gridDash":[1,2],"gridColor":"#8a8a8a","gridOpacity":{"condition":{"test":"datum.value == 20 || datum.value == 80","value":1},"value":0}}}}},
{"data":{"values":[{"t":"Stoch(14,8,8) 27.5607 15.8298","x":-0.5,"y":95},{"t":"FxPro MT4, © 2001-2013, MetaQuotes Software Corp.","x":-0.5,"y":3}]},"mark":{"type":"text","align":"left","baseline":"middle","dx":2,"fontSize":4.5,"color":"#d0d0d0"},
 "encoding":{"x":{"field":"x","type":"quantitative","scale":{"domain":[-0.5,343.25],"nice":false,"zero":false},
   "axis":{"orient":"bottom","values":[0,16,32,48,64,80,96,112,128,144,160,176,192,208,224,240,256,272],"labelExpr":"['15 Jan 2013','16 Jan 04:00','16 Jan 20:00','17 Jan 12:00','18 Jan 04:00','18 Jan 20:00','21 Jan 12:00','22 Jan 04:00','22 Jan 20:00','23 Jan 12:00','24 Jan 04:00','24 Jan 20:00','25 Jan 12:00','28 Jan 04:00','28 Jan 20:00','29 Jan 12:00','30 Jan 04:00','30 Jan 20:00'][round(datum.value/16)]","labelAlign":"left","labelOverlap":false,"labelFlush":false,"labelBound":false,"tickSize":1.5,"labelPadding":0.5,"title":null}},
 "y":{"field":"y","type":"quantitative","scale":{"domain":[-4.9,107.3],"nice":false,"zero":false},
   "axis":{"orient":"right","values":[0,20,80,100],"format":"d","title":null,"grid":true,"gridDash":[1,2],"gridColor":"#8a8a8a","gridOpacity":{"condition":{"test":"datum.value == 20 || datum.value == 80","value":1},"value":0}}},
 "text":{"field":"t"}}}
]}
]
}
